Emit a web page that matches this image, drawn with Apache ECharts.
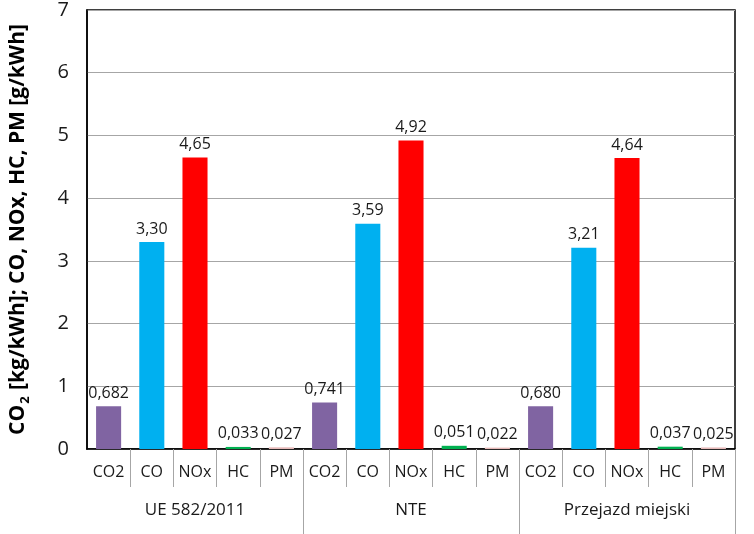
<!DOCTYPE html>
<html><head><meta charset="utf-8">
<script src="https://cdn.jsdelivr.net/npm/echarts@6/dist/echarts.min.js"></script>
<style>html,body{margin:0;padding:0;background:#fff}#c{width:754px;height:534px}</style>
</head><body><div id="c"></div>
<script>
var pollutants = ['CO2', 'CO', 'NOx', 'HC', 'PM'];
var groups = ['UE 582/2011', 'NTE', 'Przejazd miejski'];
var valuesUE = [0.682, 3.30, 4.65, 0.033, 0.027];
var valuesNTE = [0.741, 3.59, 4.92, 0.051, 0.022];
var valuesCity = [0.680, 3.21, 4.64, 0.037, 0.025];
var decimals = [3, 2, 2, 3, 3];
var colors = ['#8064A2', '#00B0F0', '#FF0000', '#00B050', '#E6B9B8'];
var yTicks = [0, 1, 2, 3, 4, 5, 6, 7];

var allGroups = [valuesUE, valuesNTE, valuesCity];
var cats = [], data = [];
allGroups.forEach(function (vals, g) {
  vals.forEach(function (v, i) {
    cats.push(pollutants[i]);
    data.push({ value: v, itemStyle: { color: colors[i] }, dec: decimals[i] });
  });
});

var font = '"Open Sans", "DejaVu Sans", sans-serif';
var noFirst = function (i) { return i !== 0; };
var chart = echarts.init(document.getElementById('c'));
chart.setOption({
  animation: false,
  grid: { left: 87, right: 19, top: 10, bottom: 85, outerBoundsMode: 'none', containLabel: false, show: true, borderColor: '#000', borderWidth: 1.5, backgroundColor: 'transparent' },
  xAxis: [{
    type: 'category', data: cats, position: 'bottom',
    axisLine: { show: true, lineStyle: { color: '#000', width: 1.5 } },
    axisTick: { show: true, length: 38, alignWithLabel: false, lineStyle: { color: '#A6A6A6', width: 1 }, interval: noFirst },
    axisLabel: { margin: 15, fontSize: 16, color: '#1a1a1a', fontFamily: font, interval: 0 }
  }, {
    type: 'category', data: groups, position: 'bottom',
    axisLine: { show: false },
    axisTick: { show: true, length: 85, alignWithLabel: false, lineStyle: { color: '#A6A6A6', width: 1 }, interval: noFirst },
    axisLabel: { margin: 53, fontSize: 17, color: '#1a1a1a', fontFamily: font, interval: 0 }
  }],
  yAxis: {
    type: 'value', min: yTicks[0], max: yTicks[yTicks.length - 1], interval: 1,
    axisLine: { show: true, lineStyle: { color: '#000', width: 1.5 } },
    axisTick: { show: false },
    splitLine: { lineStyle: { color: '#A6A6A6', width: 1.2 } },
    axisLabel: { fontSize: 20, color: '#1a1a1a', fontFamily: font, margin: 18 },
    name: '{b|CO}{s|2}{b| [kg/kWh]; CO, NOx, HC, PM [g/kWh]}',
    nameLocation: 'middle', nameGap: 55, nameRotate: 90,
    nameTextStyle: {
      rich: {
        b: { fontSize: 21, fontWeight: 'bold', color: '#000', fontFamily: font, lineHeight: 28, verticalAlign: 'middle' },
        s: { fontSize: 13, fontWeight: 'bold', color: '#000', fontFamily: font, lineHeight: 28, verticalAlign: 'bottom', padding: [0, 1, 0, 1] }
      }
    }
  },
  series: [{
    type: 'bar', xAxisIndex: 0, data: data, barWidth: '58%',
    label: {
      show: true, position: 'top', distance: 5, fontSize: 16, color: '#1a1a1a', fontFamily: font,
      formatter: function (p) { return p.data.value.toFixed(p.data.dec).replace('.', ','); }
    }
  }]
});
</script></body></html>
